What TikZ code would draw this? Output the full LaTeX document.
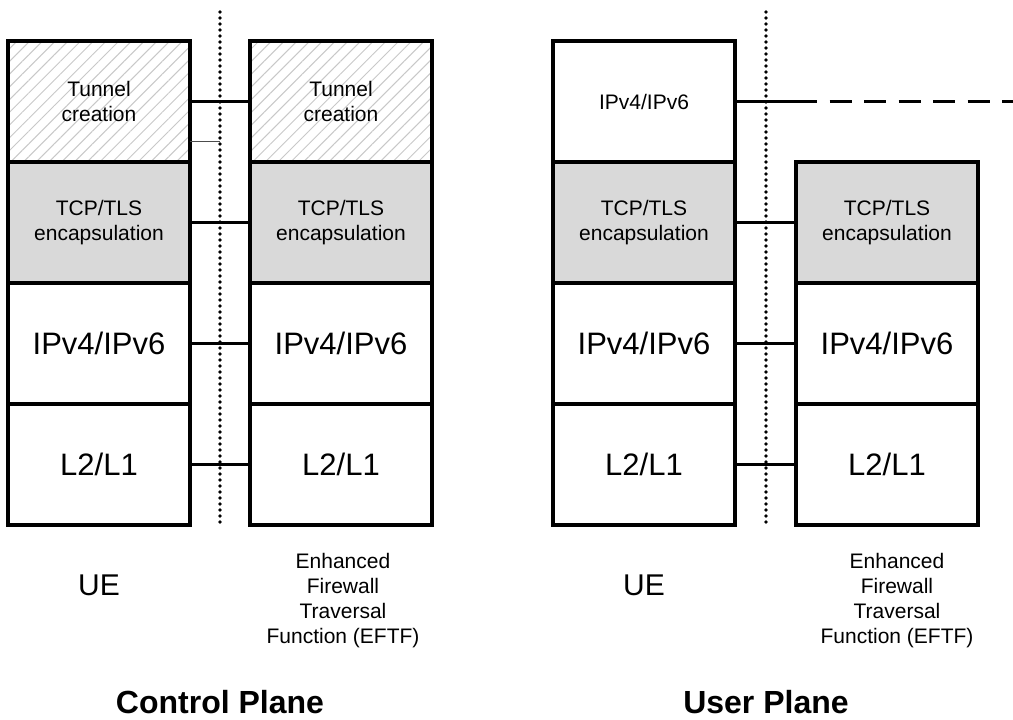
\documentclass[tikz,border=0pt]{standalone}
\usepackage{fontspec}
\setmainfont{Liberation Sans}
\usetikzlibrary{positioning,patterns.meta}
\definecolor{encgray}{RGB}{217,217,217}
\definecolor{hatchgray}{RGB}{200,200,200}
\tikzset{
  layer/.style={draw, line width=3.4pt, minimum width=182pt, minimum height=121pt,
    inner sep=0pt, outer sep=0pt, align=center, font=\fontsize{31}{37}\selectfont},
  small/.style={font=\fontsize{21}{25}\selectfont},
  tunnel/.style={layer, small, pattern={Lines[angle=45,distance=9pt,line width=1pt]},
    pattern color=hatchgray},
  encap/.style={layer, small, fill=encgray},
  link/.style={line width=2.2pt},
  stub/.style={line width=1.2pt, black!70},
  dotmark/.style={fill=black},
  caption/.style={font=\fontsize{30}{36}\selectfont},
  eftf/.style={align=center, font=\fontsize{21}{25}\selectfont},
  plane/.style={font=\bfseries\fontsize{32}{38}\selectfont}
}
\begin{document}
\begin{tikzpicture}[x=1pt,y=-1pt]
  \useasboundingbox (0,0) rectangle (1013,720);

  % Control plane, UE stack
  \node[layer, anchor=south west] (cpUEl2) at (8,525) {L2/L1};
  \node[layer, above=0pt of cpUEl2] (cpUEip) {IPv4/IPv6};
  \node[encap, above=0pt of cpUEip] (cpUEtcp) {TCP/TLS\\encapsulation};
  \node[tunnel, above=0pt of cpUEtcp] (cpUEtun) {Tunnel\\creation};

  % Control plane, EFTF stack
  \node[layer, anchor=south west] (cpFWl2) at (250,525) {L2/L1};
  \node[layer, above=0pt of cpFWl2] (cpFWip) {IPv4/IPv6};
  \node[encap, above=0pt of cpFWip] (cpFWtcp) {TCP/TLS\\encapsulation};
  \node[tunnel, above=0pt of cpFWtcp] (cpFWtun) {Tunnel\\creation};

  % User plane, UE stack
  \node[layer, anchor=south west] (upUEl2) at (553,525) {L2/L1};
  \node[layer, above=0pt of upUEl2] (upUEip) {IPv4/IPv6};
  \node[encap, above=0pt of upUEip] (upUEtcp) {TCP/TLS\\encapsulation};
  \node[layer, small, above=0pt of upUEtcp] (upUEtop) {IPv4/IPv6};

  % User plane, EFTF stack
  \node[layer, anchor=south west] (upFWl2) at (796,525) {L2/L1};
  \node[layer, above=0pt of upFWl2] (upFWip) {IPv4/IPv6};
  \node[encap, above=0pt of upFWip] (upFWtcp) {TCP/TLS\\encapsulation};

  % Peer links, control plane
  \draw[link] (cpUEtun) -- (cpFWtun);
  \path ([yshift=-40pt]cpUEtun.east) coordinate (cpStub);
  \coordinate (cpTop) at (220,12);
  \draw[stub] (cpStub) -- (cpStub -| cpTop);
  \draw[link] (cpUEtcp) -- (cpFWtcp);
  \draw[link] (cpUEip) -- (cpFWip);
  \draw[link] (cpUEl2) -- (cpFWl2);

  % Peer links, user plane
  \coordinate (upTop) at (766,12);
  \coordinate (upEnd) at (1013,0);
  \draw[link] (upUEtop.east) -- ++(82,0) coordinate (upDash);
  \draw[link, dash pattern=on 22pt off 12.5pt, dash phase=22pt] (upDash) -- (upDash -| upEnd);
  \draw[link] (upUEtcp) -- (upFWtcp);
  \draw[link] (upUEip) -- (upFWip);
  \draw[link] (upUEl2) -- (upFWl2);

  % Boundaries
  \foreach \yy in {0,6,...,510} {
    \fill[dotmark] ([yshift=-\yy pt]cpTop) circle (1.8pt);
    \fill[dotmark] ([yshift=-\yy pt]upTop) circle (1.8pt);
  }

  % Captions
  \node[caption, below=60pt of cpUEl2, anchor=center] (cpUE) {UE};
  \node[eftf, below=76pt of cpFWl2, anchor=center, xshift=2pt] (cpFW) {Enhanced\\Firewall\\Traversal\\Function (EFTF)};
  \node[caption, below=60pt of upUEl2, anchor=center] (upUE) {UE};
  \node[eftf, below=76pt of upFWl2, anchor=center, xshift=10pt] (upFW) {Enhanced\\Firewall\\Traversal\\Function (EFTF)};
  \node[plane] (cpLabel) at (220,702) {Control Plane};
  \node[plane] (upLabel) at (766,702) {User Plane};
\end{tikzpicture}
\end{document}
